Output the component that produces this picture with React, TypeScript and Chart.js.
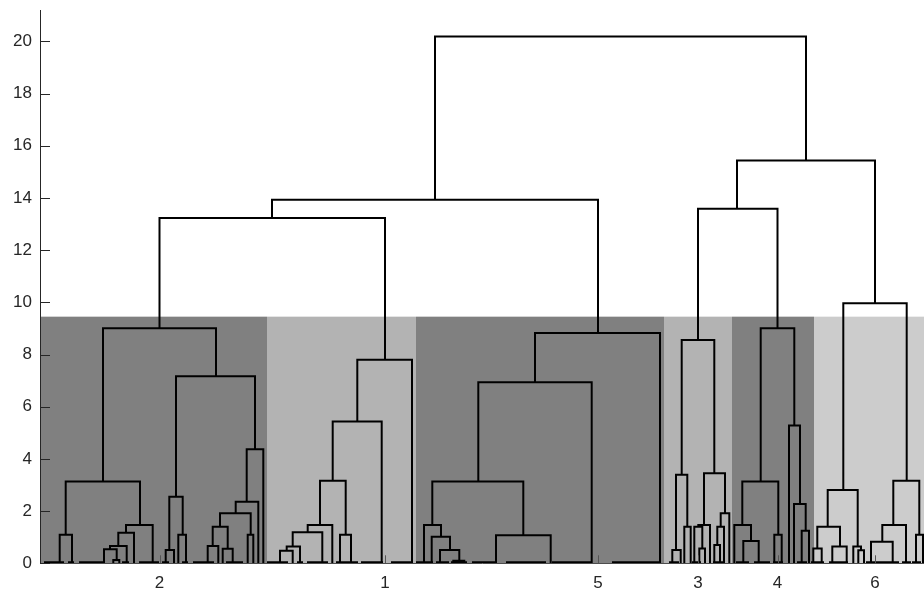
import { useEffect, useRef } from 'react';
import { Chart, registerables } from 'chart.js';

Chart.register(...registerables);

// [xLeft, xRight, heightLeftChild, heightRightChild, mergeHeight]
type Link = [number, number, number, number, number];

const clusterLabels = ['2', '1', '5', '3', '4', '6'];
const clusterTickX = [119.5, 345, 558, 658, 737.5, 835];
const clusterBounds = [0, 227, 376, 624, 692, 774, 884];
const clusterShades = ['#808080', '#b3b3b3', '#808080', '#b3b3b3', '#808080', '#cccccc'];
const cutHeight = 9.45;
const yTicks = [0, 2, 4, 6, 8, 10, 12, 14, 16, 18, 20];
const xMin = 0;
const xMax = 884;
const yMax = 21.2;

const upperLinks: Link[] = [
  [395, 766, 13.93, 15.43, 20.18],
  [232, 558, 13.23, 8.82, 13.93],
  [119.5, 345, 9.01, 7.8, 13.23],
  [697, 835, 13.58, 9.96, 15.43],
  [658, 737.5, 8.56, 9.01, 13.58],
  [803.3, 866.7, 2.81, 3.16, 9.96],
];

const cluster2Links: Link[] = [
  [63, 176, 3.13, 7.17, 9.01],
  [25.7, 100, 1.09, 1.47, 3.13],
  [19.7, 32, 0, 0, 1.09],
  [86, 112.7, 1.17, 0, 1.47],
  [78.3, 94, 0.66, 0, 1.17],
  [70, 86.7, 0.54, 0, 0.66],
  [64, 76.7, 0, 0.13, 0.54],
  [73.3, 79.3, 0, 0, 0.13],
  [136, 215, 2.55, 4.37, 7.17],
  [129.3, 142.7, 0.51, 1.09, 2.55],
  [125.7, 134, 0, 0, 0.51],
  [138.3, 146, 0, 0, 1.09],
  [206.7, 223.3, 2.36, 0, 4.37],
  [195.7, 218.3, 1.92, 0, 2.36],
  [180, 210.7, 1.4, 1.09, 1.92],
  [207.7, 213.3, 0, 0, 1.09],
  [172.7, 187.7, 0.66, 0.56, 1.4],
  [167.7, 178.3, 0, 0, 0.66],
  [182.7, 192.7, 0, 0, 0.56],
];

const cluster1Links: Link[] = [
  [317.3, 372, 5.43, 0, 7.8],
  [292.7, 341.7, 3.16, 0, 5.43],
  [280, 305.7, 1.47, 1.09, 3.16],
  [300, 311, 0, 0, 1.09],
  [267.7, 292.3, 1.19, 0, 1.47],
  [252.7, 282.3, 0.64, 0, 1.19],
  [246.7, 260, 0.48, 0, 0.64],
  [240, 252.7, 0, 0, 0.48],
];

const cluster5Links: Link[] = [
  [495, 620, 6.94, 0, 8.82],
  [438.3, 551.7, 3.13, 0, 6.94],
  [392.3, 483.3, 1.47, 1.07, 3.13],
  [456, 510.7, 0, 0, 1.07],
  [384, 401, 0, 1.02, 1.47],
  [391.7, 410, 0, 0.51, 1.02],
  [400, 419.3, 0, 0.1, 0.51],
  [413.3, 424.3, 0, 0, 0.1],
];

const cluster3Links: Link[] = [
  [641.7, 674.3, 3.39, 3.45, 8.56],
  [636, 647.3, 0.51, 1.4, 3.39],
  [632.3, 640.7, 0, 0, 0.51],
  [644.3, 650.7, 0, 0, 1.4],
  [664, 685, 1.47, 1.92, 3.45],
  [658.3, 670, 1.4, 0, 1.47],
  [654.3, 662.3, 0, 0.57, 1.4],
  [659.3, 665, 0, 0, 0.57],
  [680.7, 689.3, 1.4, 0, 1.92],
  [677.3, 684, 0.7, 0, 1.4],
  [674.3, 680, 0, 0, 0.7],
];

const cluster4Links: Link[] = [
  [720.7, 754.3, 3.13, 5.28, 9.01],
  [702.3, 738.3, 1.47, 1.09, 3.13],
  [694.3, 711, 0, 0.85, 1.47],
  [703.3, 718.7, 0, 0, 0.85],
  [734.3, 741.7, 0, 0, 1.09],
  [749, 760, 0, 2.27, 5.28],
  [754, 765.7, 0, 1.25, 2.27],
  [761.7, 769, 0, 0, 1.25],
];

const cluster6Links: Link[] = [
  [787.7, 817.7, 1.4, 0.64, 2.81],
  [777.3, 800, 0.57, 0.64, 1.4],
  [773.3, 781.7, 0, 0, 0.57],
  [792.3, 806.7, 0, 0, 0.64],
  [813.3, 821, 0, 0.5, 0.64],
  [818.3, 824, 0, 0, 0.5],
  [853.3, 879.3, 1.47, 1.09, 3.16],
  [842.3, 866, 0.83, 0, 1.47],
  [831, 852.7, 0, 0, 0.83],
  [876, 883, 0, 0, 1.09],
];

// merges of leaves at (almost) zero distance: [xLeft, xRight]
const flatMerges: [number, number][] = [
  [5, 23], [29, 33], [40, 63], [83, 88], [100, 118], [123, 128], [143, 147], [154, 173], [187, 202],
  [228, 247], [258, 262], [268, 287], [297, 317], [322, 342], [352, 372],
  [377, 382], [386, 392], [397, 408], [412, 426], [433, 454], [467, 505], [513, 550], [573, 620],
  [630, 638], [653, 660], [674, 682],
  [697, 708], [715, 729], [734, 742], [758, 766],
  [772, 783], [790, 807], [827, 858], [863, 870], [873, 880],
];
const flatHeight = 0.04;

const fontSpec = { family: '"Liberation Sans", Arial, Helvetica, sans-serif', size: 17 };
const textColor = '#262626';

function linkPoints(links: Link[]) {
  const pts: { x: number; y: number | null }[] = [];
  for (const [xl, xr, yl, yr, h] of links) {
    pts.push({ x: xl, y: yl }, { x: xl, y: h }, { x: xr, y: h }, { x: xr, y: yr }, { x: xr, y: null });
  }
  return pts;
}

const shadePlugin = {
  id: 'clusterShade',
  beforeDatasetsDraw(chart: any) {
    const { ctx, scales } = chart;
    const x = scales.x;
    const y = scales.y;
    const top = y.getPixelForValue(cutHeight);
    const bottom = y.getPixelForValue(0);
    ctx.save();
    for (let i = 0; i < clusterShades.length; i++) {
      const x0 = x.getPixelForValue(clusterBounds[i]);
      const x1 = x.getPixelForValue(clusterBounds[i + 1]);
      ctx.fillStyle = clusterShades[i];
      ctx.fillRect(x0, top, x1 - x0, bottom - top);
    }
    ctx.restore();
  },
};

const tickPlugin = {
  id: 'inwardTicks',
  afterDraw(chart: any) {
    const { ctx, scales, chartArea } = chart;
    const x = scales.x;
    const y = scales.y;
    ctx.save();
    ctx.lineWidth = 1;
    ctx.strokeStyle = textColor;
    ctx.beginPath();
    for (const v of yTicks) {
      const py = Math.round(y.getPixelForValue(v)) + 0.5;
      ctx.moveTo(chartArea.left, py);
      ctx.lineTo(chartArea.left + 10, py);
    }
    ctx.stroke();
    ctx.strokeStyle = '#555555';
    ctx.beginPath();
    for (const v of clusterTickX) {
      const px = Math.round(x.getPixelForValue(v)) + 0.5;
      ctx.moveTo(px, chartArea.bottom);
      ctx.lineTo(px, chartArea.bottom - 8);
    }
    ctx.stroke();
    ctx.restore();
  },
};

export default function App() {
  const ref = useRef<HTMLCanvasElement | null>(null);

  useEffect(() => {
    if (!ref.current) return;
    const allLinks: Link[] = [
      ...upperLinks,
      ...cluster2Links,
      ...cluster1Links,
      ...cluster5Links,
      ...cluster3Links,
      ...cluster4Links,
      ...cluster6Links,
      ...flatMerges.map(([a, b]) => [a, b, 0, 0, flatHeight] as Link),
    ];
    const chart = new Chart(ref.current, {
      type: 'line',
      data: {
        datasets: [
          {
            data: linkPoints(allLinks) as any,
            borderColor: '#000000',
            borderWidth: 2,
            pointRadius: 0,
            pointHoverRadius: 0,
            tension: 0,
            fill: false,
            spanGaps: false,
            borderJoinStyle: 'miter',
            borderCapStyle: 'butt',
          },
        ],
      },
      options: {
        animation: false,
        responsive: false,
        events: [],
        layout: { padding: { top: 10, left: 0, right: 0, bottom: 0 } },
        plugins: { legend: { display: false }, tooltip: { enabled: false } },
        scales: {
          x: {
            type: 'linear',
            min: xMin,
            max: xMax,
            grid: { display: false, drawTicks: false },
            border: { display: true, color: '#4d4d4d', width: 1, z: 1 },
            afterBuildTicks: (s: any) => {
              s.ticks = clusterTickX.map((v) => ({ value: v }));
            },
            afterFit: (s: any) => {
              s.height = 30.7;
              s.paddingLeft = 0;
              s.paddingRight = 0;
            },
            ticks: {
              autoSkip: false,
              maxRotation: 0,
              padding: 10,
              color: textColor,
              font: fontSpec,
              callback: (_v: any, i: number) => clusterLabels[i],
            },
          },
          y: {
            type: 'linear',
            min: 0,
            max: yMax,
            grid: { display: false, drawTicks: false },
            border: { display: true, color: textColor, width: 1, z: 1 },
            afterBuildTicks: (s: any) => {
              s.ticks = yTicks.map((v) => ({ value: v }));
            },
            afterFit: (s: any) => {
              s.width = 40;
              s.paddingTop = 0;
              s.paddingBottom = 0;
            },
            ticks: {
              padding: 8,
              color: textColor,
              font: fontSpec,
              callback: (v: any) => String(v),
            },
          },
        },
      },
      plugins: [shadePlugin, tickPlugin],
    });
    return () => chart.destroy();
  }, []);

  return (
    <div style={{ position: 'fixed', left: 0, top: 0, width: 924, height: 594, background: '#ffffff' }}>
      <canvas ref={ref} width={924} height={594} style={{ display: 'block', width: 924, height: 594 }} />
    </div>
  );
}
